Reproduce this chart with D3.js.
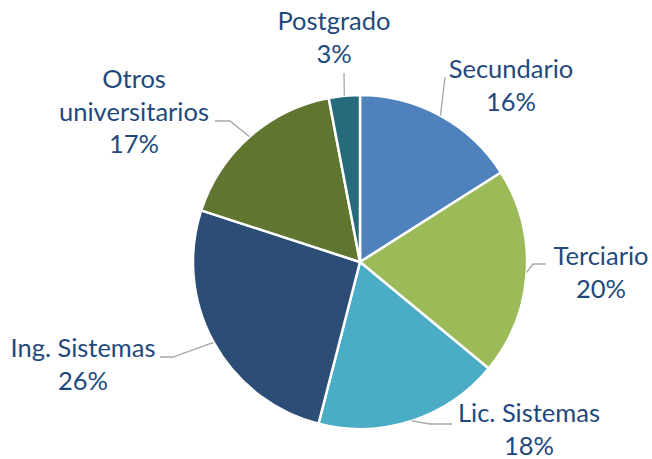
<!DOCTYPE html>
<html><head><meta charset="utf-8">
<script src="https://cdn.jsdelivr.net/npm/d3@7"></script>
<style>body{margin:0;background:#fff}svg{display:block}</style>
</head><body>
<svg id="c" width="652" height="459"></svg>
<script>
const categories = ["Secundario","Terciario","Lic. Sistemas","Ing. Sistemas","Otros universitarios","Postgrado"];
const values = [16,20,18,26,17,3];
const colors = ["#4F81BD","#9BBB59","#4BACC6","#2C4D75","#5F7530","#276A7C"];
const labelLines = [["Secundario"],["Terciario"],["Lic. Sistemas"],["Ing. Sistemas"],["Otros","universitarios"],["Postgrado"]];
// label layout (relative to pie center): text center x, first baseline y, leader elbow & end
const labelLayout = [
  {tx:151, ty:-184, elbow:[85,-185], end:[85,-185]},
  {tx:241, ty:3,    elbow:[173,2],  end:[186,2]},
  {tx:169, ty:160,  elbow:[70,162], end:[92,162]},
  {tx:-277,ty:95,   elbow:[-187,95],end:[-200,95]},
  {tx:-226,ty:-174, elbow:[-130,-141],end:[-145,-141]},
  {tx:-26, ty:-232, elbow:[-16,-189], end:[-16,-189]}
];
const W=652,H=459, cx=360, cy=262, R=167;
const svg=d3.select("#c");
const g=svg.append("g").attr("transform",`translate(${cx},${cy})`);
const pie=d3.pie().sort(null).value(d=>d)(values);
const arc=d3.arc().innerRadius(0).outerRadius(R);
g.selectAll("path.s").data(pie).join("path").attr("class","s")
  .attr("d",arc).attr("fill",(d,i)=>colors[i]).attr("stroke","#fff").attr("stroke-width",2.5).attr("stroke-linejoin","round");
const edge=d3.arc().innerRadius(R).outerRadius(R);
pie.forEach((d,i)=>{
  const L=labelLayout[i];
  if(L.elbow){
    const p=edge.centroid(d);
    g.append("polyline").attr("points",[p,L.elbow,L.end].map(q=>q.join(",")).join(" "))
      .attr("fill","none").attr("stroke","#A6A6A6").attr("stroke-width",1.3);
  }
  const lines=labelLines[i].concat([values[i]+"%"]);
  const t=g.append("text").attr("text-anchor","middle").attr("fill","#1F497D")
    .attr("font-family","Lato, 'Open Sans', sans-serif").attr("font-size",25.5);
  lines.forEach((s,k)=>t.append("tspan").attr("x",L.tx).attr("y",L.ty+k*32.5).text(s));
});
</script>
</body></html>
